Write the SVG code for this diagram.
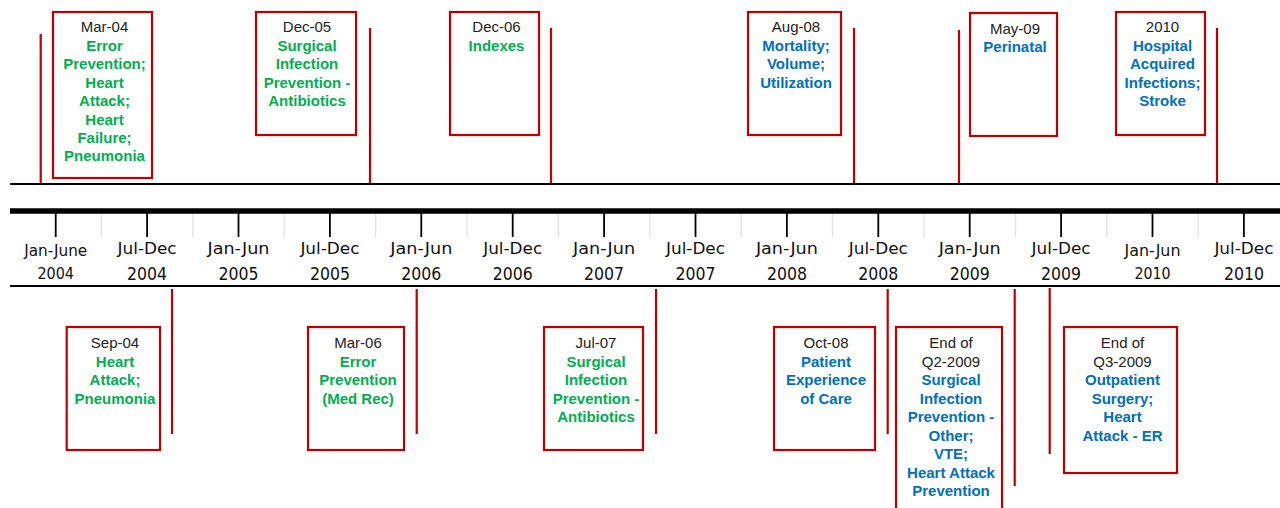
<svg xmlns="http://www.w3.org/2000/svg" width="1280" height="508" viewBox="0 0 1280 508">
<style>
.box{fill:#fff;stroke:#c00000;stroke-width:2.2}
.stem{stroke:#c00000;stroke-width:2.2;fill:none}
.axis{stroke:#000;fill:none}
.tick{stroke:#000;stroke-width:1.8}
.sep{stroke:#e4e4e4;stroke-width:1.5}
.t{font-family:"Liberation Sans",Arial,sans-serif;font-size:15px;text-anchor:middle}
.d{fill:#222}
.g{fill:#00b050;font-weight:bold}
.b{fill:#0070c0;font-weight:bold}
.lab{font-family:"DejaVu Sans Condensed","DejaVu Sans",sans-serif;text-anchor:middle;fill:#111}
.p{font-size:16px}
.y{font-size:18px}
</style>
<rect width="1280" height="508" fill="#fff"/>
<g id="axis">
<line class="axis" x1="10" y1="184" x2="1280" y2="184" stroke-width="2"/>
<line class="axis" x1="10" y1="211" x2="1280" y2="211" stroke-width="5.4"/>
<line class="axis" x1="10" y1="286" x2="1280" y2="286" stroke-width="2"/>
<g id="separators">
<line class="sep" x1="101.4" y1="214" x2="101.4" y2="237"/>
<line class="sep" x1="192.8" y1="214" x2="192.8" y2="237"/>
<line class="sep" x1="284.2" y1="214" x2="284.2" y2="237"/>
<line class="sep" x1="375.6" y1="214" x2="375.6" y2="237"/>
<line class="sep" x1="467" y1="214" x2="467" y2="237"/>
<line class="sep" x1="558.4" y1="214" x2="558.4" y2="237"/>
<line class="sep" x1="649.8" y1="214" x2="649.8" y2="237"/>
<line class="sep" x1="741.2" y1="214" x2="741.2" y2="237"/>
<line class="sep" x1="832.6" y1="214" x2="832.6" y2="237"/>
<line class="sep" x1="924" y1="214" x2="924" y2="237"/>
<line class="sep" x1="1015.4" y1="214" x2="1015.4" y2="237"/>
<line class="sep" x1="1106.8" y1="214" x2="1106.8" y2="237"/>
<line class="sep" x1="1198.2" y1="214" x2="1198.2" y2="237"/>
</g>
<g id="ticks">
<line class="tick" x1="55.7" y1="213" x2="55.7" y2="237"/>
<line class="tick" x1="147.1" y1="213" x2="147.1" y2="237"/>
<line class="tick" x1="238.5" y1="213" x2="238.5" y2="237"/>
<line class="tick" x1="329.9" y1="213" x2="329.9" y2="237"/>
<line class="tick" x1="421.3" y1="213" x2="421.3" y2="237"/>
<line class="tick" x1="512.7" y1="213" x2="512.7" y2="237"/>
<line class="tick" x1="604.1" y1="213" x2="604.1" y2="237"/>
<line class="tick" x1="695.5" y1="213" x2="695.5" y2="237"/>
<line class="tick" x1="786.9" y1="213" x2="786.9" y2="237"/>
<line class="tick" x1="878.3" y1="213" x2="878.3" y2="237"/>
<line class="tick" x1="969.7" y1="213" x2="969.7" y2="237"/>
<line class="tick" x1="1061.1" y1="213" x2="1061.1" y2="237"/>
<line class="tick" x1="1152.5" y1="213" x2="1152.5" y2="237"/>
<line class="tick" x1="1243.9" y1="213" x2="1243.9" y2="237"/>
</g>
<g id="tick-labels">
<text class="lab p" x="55.7" y="256" textLength="63" lengthAdjust="spacingAndGlyphs">Jan-June</text>
<text class="lab p" x="55.7" y="279" textLength="36.5" lengthAdjust="spacingAndGlyphs">2004</text>
<text class="lab p" x="147.1" y="254" textLength="59" lengthAdjust="spacingAndGlyphs">Jul-Dec</text>
<text class="lab y" x="147.1" y="280" textLength="40" lengthAdjust="spacingAndGlyphs">2004</text>
<text class="lab p" x="238.5" y="254" textLength="62" lengthAdjust="spacingAndGlyphs">Jan-Jun</text>
<text class="lab y" x="238.5" y="280" textLength="40" lengthAdjust="spacingAndGlyphs">2005</text>
<text class="lab p" x="329.9" y="254" textLength="59" lengthAdjust="spacingAndGlyphs">Jul-Dec</text>
<text class="lab y" x="329.9" y="280" textLength="40" lengthAdjust="spacingAndGlyphs">2005</text>
<text class="lab p" x="421.3" y="254" textLength="62" lengthAdjust="spacingAndGlyphs">Jan-Jun</text>
<text class="lab y" x="421.3" y="280" textLength="40" lengthAdjust="spacingAndGlyphs">2006</text>
<text class="lab p" x="512.7" y="254" textLength="59" lengthAdjust="spacingAndGlyphs">Jul-Dec</text>
<text class="lab y" x="512.7" y="280" textLength="40" lengthAdjust="spacingAndGlyphs">2006</text>
<text class="lab p" x="604.1" y="254" textLength="62" lengthAdjust="spacingAndGlyphs">Jan-Jun</text>
<text class="lab y" x="604.1" y="280" textLength="40" lengthAdjust="spacingAndGlyphs">2007</text>
<text class="lab p" x="695.5" y="254" textLength="59" lengthAdjust="spacingAndGlyphs">Jul-Dec</text>
<text class="lab y" x="695.5" y="280" textLength="40" lengthAdjust="spacingAndGlyphs">2007</text>
<text class="lab p" x="786.9" y="254" textLength="62" lengthAdjust="spacingAndGlyphs">Jan-Jun</text>
<text class="lab y" x="786.9" y="280" textLength="40" lengthAdjust="spacingAndGlyphs">2008</text>
<text class="lab p" x="878.3" y="254" textLength="59" lengthAdjust="spacingAndGlyphs">Jul-Dec</text>
<text class="lab y" x="878.3" y="280" textLength="40" lengthAdjust="spacingAndGlyphs">2008</text>
<text class="lab p" x="969.7" y="254" textLength="62" lengthAdjust="spacingAndGlyphs">Jan-Jun</text>
<text class="lab y" x="969.7" y="280" textLength="40" lengthAdjust="spacingAndGlyphs">2009</text>
<text class="lab p" x="1061.1" y="254" textLength="59" lengthAdjust="spacingAndGlyphs">Jul-Dec</text>
<text class="lab y" x="1061.1" y="280" textLength="40" lengthAdjust="spacingAndGlyphs">2009</text>
<text class="lab p" x="1152.5" y="256" textLength="56" lengthAdjust="spacingAndGlyphs">Jan-Jun</text>
<text class="lab p" x="1152.5" y="279" textLength="36" lengthAdjust="spacingAndGlyphs">2010</text>
<text class="lab p" x="1243.9" y="254" textLength="59" lengthAdjust="spacingAndGlyphs">Jul-Dec</text>
<text class="lab y" x="1243.9" y="280" textLength="40" lengthAdjust="spacingAndGlyphs">2010</text>
</g>
</g>
<g id="connectors">
<line class="stem" x1="40.7" y1="34" x2="40.7" y2="183"/>
<line class="stem" x1="370" y1="28" x2="370" y2="183"/>
<line class="stem" x1="551" y1="28" x2="551" y2="183"/>
<line class="stem" x1="854" y1="28" x2="854" y2="183"/>
<line class="stem" x1="959" y1="30" x2="959" y2="183"/>
<line class="stem" x1="1217" y1="28" x2="1217" y2="183"/>
<line class="stem" x1="172" y1="289" x2="172" y2="434"/>
<line class="stem" x1="416.7" y1="289" x2="416.7" y2="434"/>
<line class="stem" x1="656" y1="289" x2="656" y2="434"/>
<line class="stem" x1="887.7" y1="289" x2="887.7" y2="434"/>
<line class="stem" x1="1014.7" y1="289" x2="1014.7" y2="486"/>
<line class="stem" x1="1049.7" y1="288" x2="1049.7" y2="454"/>
</g>
<g id="mar-04">
<rect class="box" x="53" y="12" width="99" height="166"/>
<text class="t d" x="104.5" y="32.3">Mar-04</text>
<text class="t g" x="104.5" y="50.7">Error</text>
<text class="t g" x="104.5" y="69.1">Prevention;</text>
<text class="t g" x="104.5" y="87.6">Heart</text>
<text class="t g" x="104.5" y="106">Attack;</text>
<text class="t g" x="104.5" y="124.5">Heart</text>
<text class="t g" x="104.5" y="142.9">Failure;</text>
<text class="t g" x="104.5" y="161.4">Pneumonia</text>
</g>
<g id="dec-05">
<rect class="box" x="256" y="12" width="100" height="123"/>
<text class="t d" x="307" y="32.3">Dec-05</text>
<text class="t g" x="307" y="50.7">Surgical</text>
<text class="t g" x="307" y="69.1">Infection</text>
<text class="t g" x="307" y="87.6">Prevention -</text>
<text class="t g" x="307" y="106">Antibiotics</text>
</g>
<g id="dec-06">
<rect class="box" x="450" y="12" width="89" height="123"/>
<text class="t d" x="496.5" y="32.3">Dec-06</text>
<text class="t g" x="496.5" y="50.7">Indexes</text>
</g>
<g id="aug-08">
<rect class="box" x="748" y="12" width="93" height="123"/>
<text class="t d" x="796" y="32.3">Aug-08</text>
<text class="t b" x="796" y="50.7">Mortality;</text>
<text class="t b" x="796" y="69.1">Volume;</text>
<text class="t b" x="796" y="87.6">Utilization</text>
</g>
<g id="may-09">
<rect class="box" x="970" y="13" width="87" height="123"/>
<text class="t d" x="1015" y="33.8">May-09</text>
<text class="t b" x="1015" y="52.2">Perinatal</text>
</g>
<g id="y2010">
<rect class="box" x="1116" y="12" width="89" height="123"/>
<text class="t d" x="1162.5" y="32.3">2010</text>
<text class="t b" x="1162.5" y="50.7">Hospital</text>
<text class="t b" x="1162.5" y="69.1">Acquired</text>
<text class="t b" x="1162.5" y="87.6">Infections;</text>
<text class="t b" x="1162.5" y="106">Stroke</text>
</g>
<g id="sep-04">
<rect class="box" x="66.7" y="327" width="93.3" height="123"/>
<text class="t d" x="115" y="348">Sep-04</text>
<text class="t g" x="115" y="366.5">Heart</text>
<text class="t g" x="115" y="385">Attack;</text>
<text class="t g" x="115" y="403.5">Pneumonia</text>
</g>
<g id="mar-06">
<rect class="box" x="308" y="327" width="96" height="123"/>
<text class="t d" x="358" y="348">Mar-06</text>
<text class="t g" x="358" y="366.5">Error</text>
<text class="t g" x="358" y="385">Prevention</text>
<text class="t g" x="358" y="403.5">(Med Rec)</text>
</g>
<g id="jul-07">
<rect class="box" x="544" y="327" width="99" height="123"/>
<text class="t d" x="596" y="348">Jul-07</text>
<text class="t g" x="596" y="366.5">Surgical</text>
<text class="t g" x="596" y="385">Infection</text>
<text class="t g" x="596" y="403.5">Prevention -</text>
<text class="t g" x="596" y="422">Antibiotics</text>
</g>
<g id="oct-08">
<rect class="box" x="774" y="327" width="101" height="123"/>
<text class="t d" x="826" y="348">Oct-08</text>
<text class="t b" x="826" y="366.5">Patient</text>
<text class="t b" x="826" y="385">Experience</text>
<text class="t b" x="826" y="403.5">of Care</text>
</g>
<g id="q2-2009">
<rect class="box" x="896" y="327" width="106" height="200"/>
<text class="t d" x="951" y="348">End of</text>
<text class="t d" x="951" y="366.5">Q2-2009</text>
<text class="t b" x="951" y="385">Surgical</text>
<text class="t b" x="951" y="403.5">Infection</text>
<text class="t b" x="951" y="422">Prevention -</text>
<text class="t b" x="951" y="440.5">Other;</text>
<text class="t b" x="951" y="459">VTE;</text>
<text class="t b" x="951" y="477.5">Heart Attack</text>
<text class="t b" x="951" y="496">Prevention</text>
</g>
<g id="q3-2009">
<rect class="box" x="1064" y="327" width="113" height="146"/>
<text class="t d" x="1122.5" y="348">End of</text>
<text class="t d" x="1122.5" y="366.5">Q3-2009</text>
<text class="t b" x="1122.5" y="385">Outpatient</text>
<text class="t b" x="1122.5" y="403.5">Surgery;</text>
<text class="t b" x="1122.5" y="422">Heart</text>
<text class="t b" x="1122.5" y="440.5">Attack - ER</text>
</g>
</svg>
